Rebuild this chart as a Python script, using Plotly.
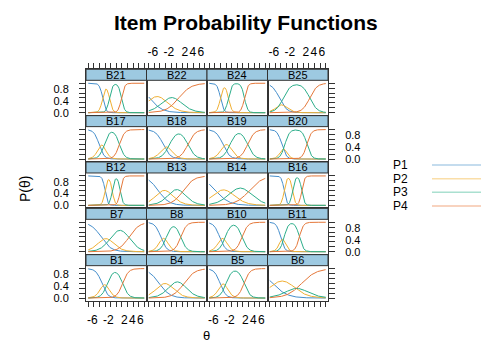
import numpy as np
import plotly.graph_objects as go

# ---- data (graded-response item parameters per panel) ----
items = ["B21", "B22", "B24", "B25",
         "B17", "B18", "B19", "B20",
         "B12", "B13", "B14", "B16",
         "B7", "B8", "B10", "B11",
         "B1", "B4", "B5", "B6"]
slopes = [2.6, 0.65, 2.5, 1.1,
          1.6, 1.1, 1.2, 1.8,
          3.0, 0.75, 0.6, 3.0,
          0.8, 1.4, 1.4, 2.0,
          1.4, 0.75, 1.4, 0.55]
thresh1 = [-3.4, -6.8, -4.2, -4.6,
           -4.3, -3.4, -3.6, -4.0,
           -2.8, -4.6, -5.4, -3.4,
           -3.8, -4.0, -4.4, -4.3,
           -3.6, -4.4, -4.3, -6.3]
thresh2 = [-1.7, -3.0, -2.2, -3.6,
           -3.0, -1.8, -1.8, -3.2,
           -1.0, -1.6, -1.5, -1.3,
           -1.4, -2.6, -3.0, -3.4,
           -2.2, -1.5, -2.8, -1.5]
thresh3 = [1.3, 0.5, 1.8, 3.0,
           0.8, 2.8, 2.6, 2.3,
           1.0, 1.6, 3.0, 1.0,
           3.2, 1.0, 1.2, 0.4,
           1.6, 1.8, 1.7, 1.0]
categories = ["P1", "P2", "P3", "P4"]
theta_limits = [-7, 7]
x_tick_values = [-6, -2, 2, 4, 6]
x_tick_labels = ["-6", "-2", "2", "4", "6"]
y_tick_values = [0.0, 0.4, 0.8]
y_tick_labels = ["0.0", "0.4", "0.8"]

# ---- styling ----
W, H = 481, 345
line_colors = ["rgb(70,143,204)", "rgb(240,176,52)", "rgb(44,174,138)", "rgb(229,120,58)"]
legend_colors = ["rgb(176,208,232)", "rgb(250,222,168)", "rgb(170,224,208)", "rgb(246,196,170)"]
strip_color = "#9DC9E1"
border = "#333333"
FONT = "Liberation Sans, Arial, sans-serif"

col_edges = [86, 146.5, 207, 267.5, 328]
row_top0, row_h, strip_h = 69.3, 46.34, 11.0
plot_h = row_h - strip_h
y_lo, y_hi_data = -0.1, 1.1
y_top = y_hi_data + strip_h * (y_hi_data - y_lo) / plot_h
pad = 0.04 * (theta_limits[1] - theta_limits[0])
x_range = [theta_limits[0] - pad, theta_limits[1] + pad]
x_minor = [theta_limits[0] + 1.4 * k for k in range(11)]
y_minor = [k / 6 for k in range(7)]


def px(x):
    return x / W


def py(y):
    return 1 - y / H


theta = np.linspace(theta_limits[0], theta_limits[1], 281)


def grm(a, bs):
    stars = [1 / (1 + np.exp(-a * (theta - b))) for b in bs]
    cum = [np.ones_like(theta)] + stars + [np.zeros_like(theta)]
    return [cum[k] - cum[k + 1] for k in range(len(bs) + 1)]


fig = go.Figure()
layout = {}
shapes = []
annotations = []

for i, name in enumerate(items):
    r, c = divmod(i, 4)
    k = i + 1
    xa, ya = ("x" if k == 1 else f"x{k}"), ("y" if k == 1 else f"y{k}")
    probs = grm(slopes[i], [thresh1[i], thresh2[i], thresh3[i]])
    for j, p in enumerate(probs):
        fig.add_trace(go.Scatter(x=theta, y=p, mode="lines", xaxis=xa, yaxis=ya,
                                 line=dict(color=line_colors[j], width=1),
                                 showlegend=False, hoverinfo="skip", name=categories[j]))
    top = row_top0 + r * row_h
    bottom = top + row_h
    x0, x1 = col_edges[c], col_edges[c + 1]

    outer_x = r in (0, 4)
    show_xlab = (r == 0 and c in (1, 3)) or (r == 4 and c in (0, 2))
    xaxis = dict(domain=[px(x0), px(x1)], range=x_range, anchor=ya,
                 showline=True, linecolor=border, linewidth=1, mirror=True,
                 showgrid=False, zeroline=False, fixedrange=True, automargin=False,
                 side="top" if r == 0 else "bottom",
                 tickmode="array", tickvals=x_tick_values, ticktext=x_tick_labels,
                 tickangle=0,
                 ticks="outside" if outer_x else "", ticklen=8,
                 tickcolor="rgba(0,0,0,0)",
                 showticklabels=show_xlab,
                 tickfont=dict(family=FONT, size=12, color="black"),
                 minor=dict(tickmode="array", tickvals=x_minor,
                            ticks="outside" if outer_x else "", ticklen=5,
                            tickcolor=border, tickwidth=1, showgrid=False))
    outer_y = c in (0, 3)
    show_ylab = (c == 0 and r in (0, 2, 4)) or (c == 3 and r in (1, 3))
    yaxis = dict(domain=[py(bottom), py(top)], range=[y_lo, y_top], anchor=xa,
                 showline=True, linecolor=border, linewidth=1, mirror=True,
                 showgrid=False, zeroline=False, fixedrange=True, automargin=False,
                 side="right" if c == 3 else "left",
                 tickmode="array", tickvals=[v + 1e-4 for v in y_tick_values],
                 ticktext=y_tick_labels,
                 ticks="outside" if outer_y else "", ticklen=14,
                 tickcolor="rgba(0,0,0,0)",
                 showticklabels=show_ylab,
                 tickfont=dict(family=FONT, size=11, color="black"),
                 minor=dict(tickmode="array", tickvals=y_minor,
                            ticks="outside" if outer_y else "", ticklen=6,
                            tickcolor=border, tickwidth=1, showgrid=False))
    layout["xaxis" if k == 1 else f"xaxis{k}"] = xaxis
    layout["yaxis" if k == 1 else f"yaxis{k}"] = yaxis

    shapes.append(dict(type="rect", xref="paper", yref="paper",
                       x0=px(x0), x1=px(x1), y0=py(top + strip_h), y1=py(top),
                       fillcolor=strip_color, line=dict(color=border, width=1),
                       layer="above"))
    annotations.append(dict(text=name, xref="paper", yref="paper",
                            x=px((x0 + x1) / 2), y=py(top + strip_h / 2),
                            xanchor="center", yanchor="middle", showarrow=False,
                            font=dict(family=FONT, size=11, color="black")))

# legend (lattice key)
legend_y = [165, 178.7, 192.3, 206]
for j, cat in enumerate(categories):
    annotations.append(dict(text=cat, xref="paper", yref="paper",
                            x=px(392), y=py(legend_y[j]), xanchor="left", yanchor="middle",
                            showarrow=False, borderpad=0,
                            font=dict(family=FONT, size=12, color="black")))
    shapes.append(dict(type="line", xref="paper", yref="paper",
                       x0=px(432), x1=px(482), y0=py(legend_y[j]), y1=py(legend_y[j]),
                       line=dict(color=legend_colors[j], width=1.5)))

annotations.append(dict(text="<b>Item Probability Functions</b>", xref="paper", yref="paper",
                        x=px(246), y=py(23), xanchor="center", yanchor="middle", showarrow=False,
                        font=dict(family=FONT, size=21, color="black")))
annotations.append(dict(text="P(θ)", xref="paper", yref="paper", textangle=-90,
                        x=px(25), y=py(189), xanchor="center", yanchor="middle", showarrow=False,
                        font=dict(family=FONT, size=14, color="black")))
annotations.append(dict(text="θ", xref="paper", yref="paper",
                        x=px(206.5), y=py(335), xanchor="center", yanchor="middle", showarrow=False,
                        borderpad=0, font=dict(family=FONT, size=13, color="black")))

fig.update_layout(width=W, height=H, margin=dict(l=0, r=0, t=0, b=0, autoexpand=False),
                  paper_bgcolor="white", plot_bgcolor="rgba(0,0,0,0)",
                  showlegend=False, shapes=shapes, annotations=annotations, **layout)
fig.write_html("out.html", config={"displayModeBar": False},
               post_script="document.body.style.margin='0px';document.body.style.overflow='hidden';")
